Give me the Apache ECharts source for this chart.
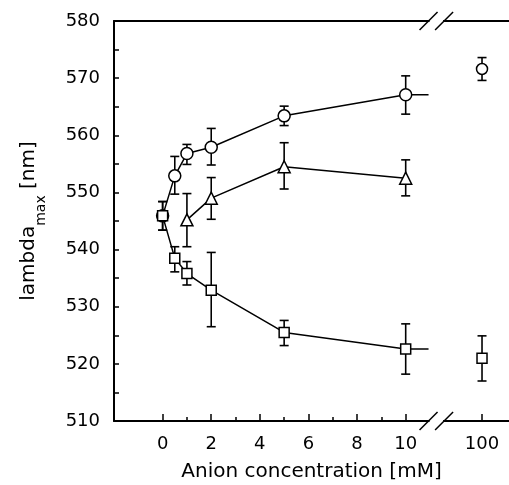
<!DOCTYPE html>
<html lang="en">
<head>
    <meta charset="utf-8">
    <title>lambda max vs anion concentration</title>
    <script src="https://cdn.jsdelivr.net/npm/echarts@6/dist/echarts.min.js"></script>
    <style>
        html, body { margin: 0; padding: 0; background: #fff; }
        #main { width: 509px; height: 485px; }
    </style>
</head>
<body>
    <div id="main"></div>
    <script>
    // concentrations (mM), 100 sits after the axis break
    var conc = [0, 0.5, 1, 2, 5, 10, 100];
    var xTickLabels = ['0', '2', '4', '6', '8', '10', '100'];

    // circles
    var circleMean = [545.9, 552.9, 556.8, 557.9, 563.4, 567.1, 571.6];
    var circleLow  = [543.4, 549.7, 554.9, 554.8, 561.7, 563.7, 569.6];
    var circleHigh = [548.4, 556.3, 558.4, 561.2, 565.1, 570.4, 573.6];

    // triangles
    var triConc = [1, 2, 5, 10];
    var triMean = [545.2, 549.0, 554.5, 552.5];
    var triLow  = [540.5, 545.3, 550.6, 549.4];
    var triHigh = [549.8, 552.6, 558.7, 555.7];

    // squares
    var squareMean = [545.9, 538.5, 535.8, 532.9, 525.5, 522.6, 521.0];
    var squareLow  = [543.4, 536.1, 533.8, 526.5, 523.2, 518.2, 517.0];
    var squareHigh = [548.4, 540.5, 537.9, 539.5, 527.6, 527.0, 524.9];

    // broken x axis: linear 0..10, then a gap, then 100
    var breakLeft = 10.94;
    var breakRight = 11.58;
    var pos100 = 13.14;
    function xPos(c) {
        return c > 10 ? pos100 : c;
    }

    var myChart = echarts.init(document.getElementById('main'));

    function lineSeries(xs, ys, symbol, size) {
        var data = [];
        var hasFar = false;
        var last = null;
        for (var i = 0; i < xs.length; i++) {
            if (xs[i] > 10) { hasFar = true; continue; }
            data.push([xPos(xs[i]), ys[i]]);
            last = ys[i];
        }
        // line runs on towards the break when there is a far point
        if (hasFar) {
            data.push({ value: [breakLeft, last], symbol: 'none' });
        }
        return {
            type: 'line',
            data: data,
            symbol: symbol,
            symbolSize: size,
            showAllSymbol: true,
            z: 5,
            lineStyle: { color: '#000', width: 1.5 },
            itemStyle: { color: '#fff', borderColor: '#000', borderWidth: 1.5 },
            emphasis: { disabled: true }
        };
    }

    function farSeries(xs, ys, symbol, size) {
        var data = [];
        for (var i = 0; i < xs.length; i++) {
            if (xs[i] > 10) data.push([xPos(xs[i]), ys[i]]);
        }
        return {
            type: 'scatter',
            data: data,
            symbol: symbol,
            symbolSize: size,
            z: 5,
            itemStyle: { color: '#fff', borderColor: '#000', borderWidth: 1.5, opacity: 1 },
            emphasis: { disabled: true }
        };
    }

    function errorSeries(xs, lows, highs) {
        var data = [];
        for (var i = 0; i < xs.length; i++) {
            data.push([xPos(xs[i]), lows[i], highs[i]]);
        }
        return {
            type: 'custom',
            z: 3,
            data: data,
            renderItem: function(params, api) {
                var top = api.coord([api.value(0), api.value(2)]);
                var bot = api.coord([api.value(0), api.value(1)]);
                var w = 4.5;
                var st = { stroke: '#000', lineWidth: 1.6 };
                return {
                    type: 'group',
                    children: [
                        { type: 'line', shape: { x1: top[0], y1: top[1], x2: bot[0], y2: bot[1] }, style: st },
                        { type: 'line', shape: { x1: top[0] - w, y1: top[1], x2: top[0] + w, y2: top[1] }, style: st },
                        { type: 'line', shape: { x1: bot[0] - w, y1: bot[1], x2: bot[0] + w, y2: bot[1] }, style: st }
                    ]
                };
            }
        };
    }

    var majorTicks = [0, 2, 4, 6, 8, 10, pos100];
    var fontName = 'DejaVu Sans';

    var option = {
        animation: false,
        backgroundColor: '#fff',
        grid: { left: 114, right: 0, top: 21, bottom: 64, outerBoundsMode: 'none' },
        xAxis: [{
            type: 'value',
            min: -2,
            max: 14.25,
            interval: 1,
            position: 'bottom',
            splitLine: { show: false },
            axisLine: { onZero: false, lineStyle: { color: '#000', width: 2 } },
            axisTick: { inside: true, length: 7, lineStyle: { color: '#000', width: 1.5 }, customValues: majorTicks },
            axisLabel: {
                margin: 14,
                color: '#000',
                fontSize: 18,
                fontFamily: fontName,
                customValues: majorTicks,
                formatter: function(v) {
                    var i = majorTicks.indexOf(v);
                    return i >= 0 ? xTickLabels[i] : '';
                }
            },
            name: 'Anion concentration [mM]',
            nameLocation: 'middle',
            nameGap: 41,
            nameTextStyle: { color: '#000', fontSize: 20, fontFamily: fontName }
        }, {
            // minor ticks at odd values
            type: 'value',
            min: -2,
            max: 14.25,
            interval: 1,
            position: 'bottom',
            splitLine: { show: false },
            axisLine: { show: false, onZero: false },
            axisTick: { inside: true, length: 4, lineStyle: { color: '#000', width: 1.5 }, customValues: [1, 3, 5, 7, 9] },
            axisLabel: { show: false }
        }, {
            // top frame
            type: 'value',
            min: -2,
            max: 14.25,
            position: 'top',
            splitLine: { show: false },
            axisLine: { onZero: false, lineStyle: { color: '#000', width: 2 } },
            axisTick: { show: false },
            axisLabel: { show: false }
        }],
        yAxis: {
            type: 'value',
            min: 510,
            max: 580,
            interval: 10,
            position: 'left',
            splitLine: { show: false },
            axisLine: { show: true, onZero: false, lineStyle: { color: '#000', width: 2 } },
            axisTick: { inside: true, length: 5, lineStyle: { color: '#000', width: 1.5 } },
            minorTick: { show: true, splitNumber: 2, length: 5, lineStyle: { color: '#000', width: 1.5 } },
            axisLabel: { margin: 14, color: '#000', fontSize: 18, fontFamily: fontName },
            name: '{a|lambda}{s|max}{a| [nm]}',
            nameLocation: 'middle',
            nameRotate: 90,
            nameGap: 66,
            nameTextStyle: {
                color: '#000',
                fontFamily: fontName,
                rich: {
                    a: { fontSize: 20, fontFamily: fontName, color: '#000', lineHeight: 20, verticalAlign: 'top' },
                    s: { fontSize: 14, fontFamily: fontName, color: '#000', lineHeight: 29, verticalAlign: 'bottom' }
                }
            }
        },
        series: [
            errorSeries(conc, circleLow, circleHigh),
            errorSeries(triConc, triLow, triHigh),
            errorSeries(conc, squareLow, squareHigh),
            lineSeries(conc, circleMean, 'circle', 12),
            lineSeries(triConc, triMean, 'triangle', 12),
            lineSeries(conc, squareMean, 'rect', 10),
            farSeries(conc, circleMean, 'circle', 11),
            farSeries(conc, squareMean, 'rect', 10)
        ]
    };

    myChart.setOption(option);

    // axis break marks: white gap in the frame lines and two slashes
    function breakMarks() {
        var els = [];
        var ys = [580, 510];
        for (var k = 0; k < ys.length; k++) {
            var a = myChart.convertToPixel({ gridIndex: 0 }, [breakLeft, ys[k]]);
            var b = myChart.convertToPixel({ gridIndex: 0 }, [breakRight, ys[k]]);
            els.push({ type: 'rect', shape: { x: a[0] + 1, y: a[1] - 3, width: b[0] - a[0] - 2, height: 6 }, style: { fill: '#fff' }, z: 100 });
            var pts = [a[0], b[0]];
            for (var j = 0; j < pts.length; j++) {
                els.push({
                    type: 'line',
                    shape: { x1: pts[j] - 9, y1: a[1] + 9, x2: pts[j] + 9, y2: a[1] - 9 },
                    style: { stroke: '#000', lineWidth: 1.5 },
                    z: 101
                });
            }
        }
        myChart.setOption({ graphic: els });
    }
    breakMarks();
    </script>
</body>
</html>
